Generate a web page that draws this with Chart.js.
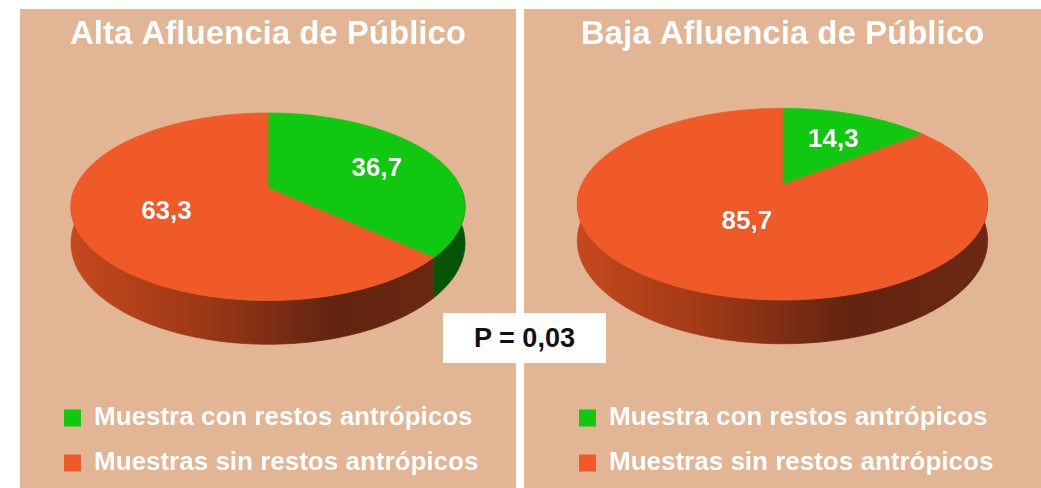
<!DOCTYPE html>
<html lang="es">
<head>
<meta charset="UTF-8">
<title>Afluencia de Público</title>
<style>
  body {
    margin: 0;
    width: 1041px;
    height: 488px;
    overflow: hidden;
    position: relative;
    background: #ffffff;
    font-family: 'Liberation Sans', Arial, sans-serif;
  }
  .panel {
    position: absolute;
    top: 9px;
    height: 479px;
    background: #E2B595;
  }
  #leftPanel { left: 20px; width: 496px; }
  #rightPanel { left: 524px; width: 517px; }
  .pval {
    position: absolute;
    left: 443px;
    top: 313px;
    width: 163px;
    height: 50px;
    background: #ffffff;
    color: #111111;
    font-weight: bold;
    font-size: 27px;
    line-height: 50px;
    text-align: center;
  }
</style>
</head>
<body>
  <div class="panel" id="leftPanel"><canvas id="altaChart" width="496" height="479"></canvas></div>
  <div class="panel" id="rightPanel"><canvas id="bajaChart" width="517" height="479"></canvas></div>
  <div class="pval" id="pval"></div>

<script src="https://cdn.jsdelivr.net/npm/chart.js"></script>
<script>
// data
const categories = ['Muestra con restos antrópicos', 'Muestras sin restos antrópicos'];
const panelTitles = ['Alta Afluencia de Público', 'Baja Afluencia de Público'];
const altaValues = [36.7, 63.3];
const bajaValues = [14.3, 85.7];
const pValueText = 'P = 0,03';

const FONT = "'Liberation Sans', Arial, sans-serif";
const faceColors = ['#11C811', '#F05A28'];
const sideColors = [
    ['#0C8A0C', '#0A6A0A', '#065206'],
    ['#C4481E', '#9C3816', '#622410', '#6C2812']
];

Chart.defaults.font.family = FONT;

const fmt = v => v.toFixed(1).replace('.', ',');

// project an angle / radius fraction of the pie onto a tilted disc with a bit of perspective
function project(cx, opts, a, f, drop) {
    const u = f * Math.cos(a), v = f * Math.sin(a);
    const w = 1 - opts.perspective * v;
    return [cx + opts.rx * u / w, opts.apexY + (opts.ry * v + drop) / w];
}

function tracePath(ctx, pts) {
    pts.forEach((p, j) => j ? ctx.lineTo(p[0], p[1]) : ctx.moveTo(p[0], p[1]));
    ctx.closePath();
}

const pie3d = {
    id: 'pie3d',
    beforeDatasetsDraw(chart, args, opts) {
        const ctx = chart.ctx;
        const arcs = chart.getDatasetMeta(0).data;
        if (!arcs.length) return;
        const cx = arcs[0].x;
        const steps = span => Math.max(2, Math.ceil(Math.abs(span) / 0.01));

        ctx.save();
        // side walls (front half only)
        arcs.forEach((arc, i) => {
            const grad = ctx.createLinearGradient(cx - opts.rx, 0, cx + opts.rx, 0);
            const stops = opts.sideColors[i];
            stops.forEach((c, k) => grad.addColorStop(k / (stops.length - 1), c));
            for (let k = -1; k <= 1; k++) {
                const a1 = Math.max(arc.startAngle, 2 * Math.PI * k);
                const a2 = Math.min(arc.endAngle, 2 * Math.PI * k + Math.PI);
                if (a2 <= a1) continue;
                const n = steps(a2 - a1);
                const pts = [];
                for (let j = 0; j <= n; j++) pts.push(project(cx, opts, a1 + (a2 - a1) * j / n, 1, 0));
                for (let j = n; j >= 0; j--) pts.push(project(cx, opts, a1 + (a2 - a1) * j / n, 1, opts.depth));
                ctx.beginPath();
                tracePath(ctx, pts);
                ctx.fillStyle = grad;
                ctx.strokeStyle = grad;
                ctx.lineWidth = 0.8;
                ctx.fill();
                ctx.stroke();
            }
        });
        // top faces
        arcs.forEach(arc => {
            const n = steps(arc.endAngle - arc.startAngle);
            const pts = [project(cx, opts, 0, 0, 0)];
            for (let j = 0; j <= n; j++) {
                pts.push(project(cx, opts, arc.startAngle + (arc.endAngle - arc.startAngle) * j / n, 1, 0));
            }
            ctx.beginPath();
            tracePath(ctx, pts);
            ctx.fillStyle = arc.options.backgroundColor;
            ctx.strokeStyle = arc.options.backgroundColor;
            ctx.lineWidth = 0.8;
            ctx.fill();
            ctx.stroke();
        });
        ctx.restore();
        return false;
    },
    afterDraw(chart, args, opts) {
        const ctx = chart.ctx;
        const arcs = chart.getDatasetMeta(0).data;
        if (!arcs.length) return;
        const cx = arcs[0].x;
        const values = chart.data.datasets[0].data;
        ctx.save();
        ctx.font = 'bold 26px ' + FONT;
        ctx.fillStyle = '#ffffff';
        ctx.textAlign = 'center';
        ctx.textBaseline = 'middle';
        arcs.forEach((arc, i) => {
            const mid = (arc.startAngle + arc.endAngle) / 2;
            const p = project(cx, opts, mid, opts.labelFractions[i], 0);
            ctx.fillText(fmt(values[i]), p[0], p[1] + 3);
        });
        ctx.restore();
    }
};

function makeChart(id, title, values, padX, geo) {
    return new Chart(document.getElementById(id), {
        type: 'pie',
        data: {
            labels: categories,
            datasets: [{
                data: values,
                backgroundColor: faceColors,
                borderWidth: 0
            }]
        },
        options: {
            responsive: false,
            animation: false,
            devicePixelRatio: 1,
            layout: { padding: { left: padX, right: padX, top: 0, bottom: 2 } },
            plugins: {
                title: {
                    display: true,
                    text: title,
                    color: '#ffffff',
                    font: { size: 33, weight: 'bold' },
                    padding: { top: 6, bottom: 10 }
                },
                legend: {
                    position: 'bottom',
                    align: 'start',
                    labels: {
                        color: '#ffffff',
                        font: { size: 26, weight: 'bold' },
                        boxWidth: 17,
                        boxHeight: 17,
                        padding: 19
                    }
                },
                tooltip: { enabled: false },
                pie3d: Object.assign({ sideColors: sideColors, perspective: 0.2, depth: 35 }, geo)
            }
        },
        plugins: [pie3d]
    });
}

makeChart('altaChart', panelTitles[0], altaValues, 25,
    { rx: 193, ry: 90, apexY: 179, labelFractions: [0.65, 0.55] });
makeChart('bajaChart', panelTitles[1], bajaValues, 36,
    { rx: 201, ry: 92, apexY: 176, labelFractions: [0.65, 0.38] });

document.getElementById('pval').textContent = pValueText;
</script>
</body>
</html>
